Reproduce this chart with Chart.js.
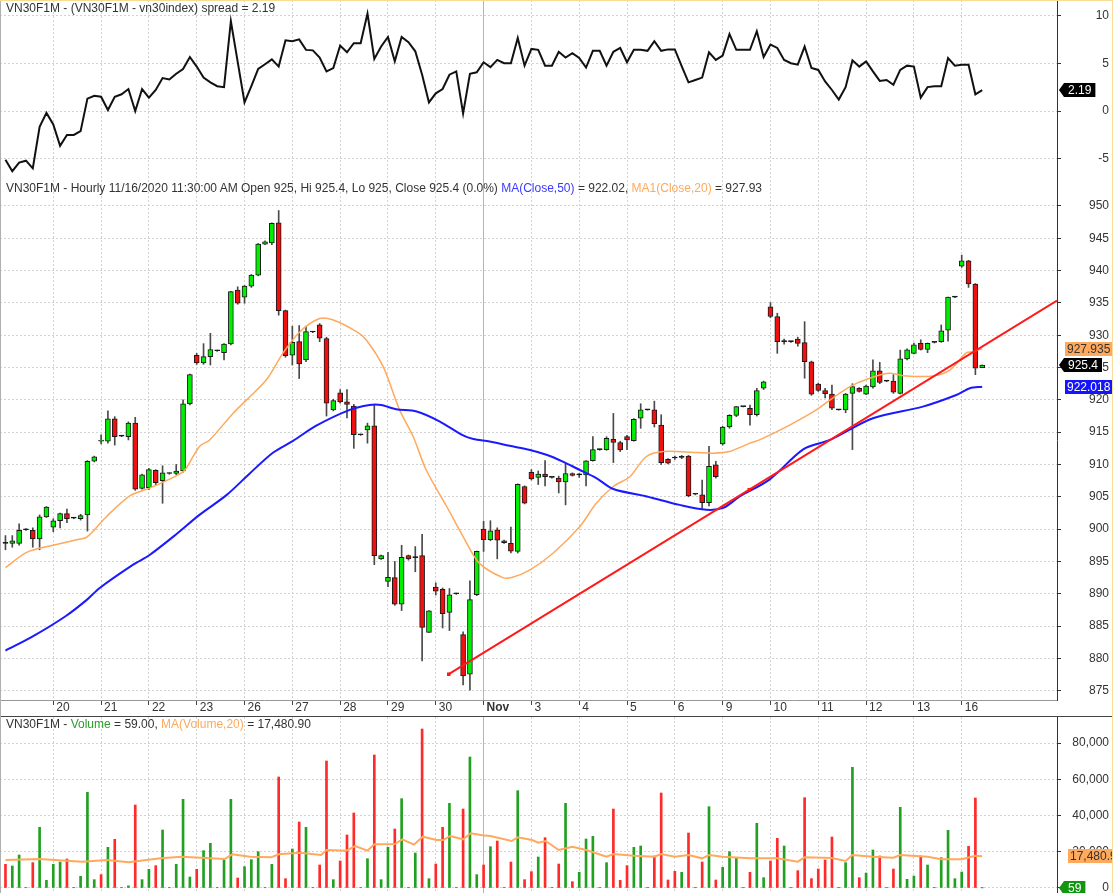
<!DOCTYPE html>
<html>
<head>
<meta charset="utf-8">
<script src="https://cdn.jsdelivr.net/npm/chart.js@4.4.1/dist/chart.umd.min.js"></script>
<style>
html,body{margin:0;padding:0;background:#fff;}
#wrap{position:relative;width:1113px;height:893px;overflow:hidden;background:#fff;font-family:"Liberation Sans",Arial,sans-serif;}
canvas{position:absolute;left:0;display:block;}
.ttl{position:absolute;left:6px;font-size:12px;line-height:14px;color:#333;white-space:nowrap;z-index:3;}
.ln{position:absolute;z-index:4;}
</style>
</head>
<body>
<div id="wrap">
<canvas id="cSpread" width="1113" height="180" style="top:0"></canvas>
<canvas id="cPrice" width="1113" height="537" style="top:180px"></canvas>
<canvas id="cVol" width="1113" height="176" style="top:717px"></canvas>
<div class="ttl" style="top:1px">VN30F1M - (VN30F1M - vn30index) spread = 2.19</div>
<div class="ttl" style="top:181px">VN30F1M - Hourly 11/16/2020 11:30:00 AM Open 925, Hi 925.4, Lo 925, Close 925.4 (0.0%) <span style="color:#3a3aff">MA(Close,50)</span> = 922.02, <span style="color:#ffa95c">MA1(Close,20)</span> = 927.93</div>
<div class="ttl" style="top:717px">VN30F1M - <span style="color:#2a9d2a">Volume</span> = 59.00, <span style="color:#ffa95c">MA(Volume,20)</span> = 17,480.90</div>
<div class="ln" style="left:0;top:716px;width:1113px;height:1px;background:#444"></div>
<div class="ln" style="left:0;top:0;width:1px;height:893px;background:#b0b0b0"></div>
<div class="ln" style="left:0;top:0;width:1113px;height:1px;background:#f6dc96"></div>
<div class="ln" style="left:1112px;top:0;width:1px;height:893px;background:#f6dc96"></div>
</div>
<script>
// ---------------- DATA ----------------
const days = ['20','21','22','23','26','27','28','29','30','Nov','3','4','5','6','9','10','11','12','13','16'];
const dayStart = [7,14,21,28,35,42,49,56,63,70,77,84,91,98,105,112,119,126,133,140];

const spreadTicks = [-5,0,5,10];
const priceTicks = [875,880,885,890,895,900,905,910,915,920,925,930,935,940,945,950];
const volTicks = [0,20000,40000,60000,80000];

const spread = [-5.1,-6.3,-5.4,-5.2,-6.0,-1.65,-0.2,-1.4,-3.65,-2.5,
-2.5,-2.1,1.3,1.6,1.5,0.1,1.5,1.75,2.3,0.0,
2.3,1.4,2.2,3.45,3.3,3.9,4.4,5.65,4.65,3.5,
3.0,2.6,2.5,9.4,5.15,0.9,2.6,4.4,4.9,5.4,
4.65,7.4,7.3,7.5,6.4,6.35,5.6,4.15,4.5,6.85,
6.15,7.1,7.1,10.2,5.45,6.75,7.75,5.2,7.75,7.2,
6.25,3.8,0.9,1.85,2.3,3.8,4.15,-0.25,3.9,4.05,
5.1,4.6,5.35,5.0,5.0,7.65,4.75,6.5,6.4,4.75,
4.75,6.2,5.6,6.05,5.55,4.55,6.3,6.3,4.75,6.2,
6.6,5.1,6.4,6.4,6.3,7.3,6.3,6.45,6.45,4.7,
3.0,3.25,3.5,6.15,5.35,5.8,8.05,6.4,6.4,6.4,
8.35,5.65,6.95,6.6,5.35,5.0,4.85,6.75,4.5,4.3,
3.1,2.2,1.2,2.5,5.3,4.65,5.2,4.15,3.15,3.25,
2.75,4.3,4.75,4.65,1.4,2.5,2.6,2.6,5.55,4.75,
4.85,4.85,1.75,2.19];

const opens = [897.8,897.8,897.8,899.9,899.8,898.5,901.9,900.3,901.3,902.4,
901.7,901.6,902.2,910.5,913.6,913.6,917.05,914.4,914.3,916.4,
906.3,906.4,909.1,907.5,908.6,908.6,909.0,919.4,926.9,925.7,
926.7,927.6,927.3,928.65,937.0,935.9,937.6,939.3,944.1,944.3,
947.4,933.8,926.9,929.0,926.2,930.5,931.6,929.5,918.45,921.1,
919.7,919.05,914.6,915.35,916.0,895.4,891.9,892.5,888.4,895.9,
895.6,895.9,884.0,891.05,890.7,887.1,890.0,883.7,877.55,889.85,
900.0,898.35,899.9,898.2,897.8,896.55,906.6,908.8,908.0,908.5,
908.0,907.9,907.3,908.6,908.4,908.4,910.6,912.3,912.3,913.9,
913.4,914.3,913.7,917.15,918.45,918.45,916.1,910.8,911.0,911.1,
911.3,905.4,905.3,904.1,909.95,913.2,915.8,917.6,918.95,918.7,
917.7,921.8,934.4,932.9,929.0,929.0,929.4,928.85,925.9,922.45,
921.45,920.9,918.45,918.45,921.0,921.8,920.9,922.0,924.5,922.9,
922.9,921.0,926.35,927.2,928.75,927.8,928.9,929.0,930.8,935.9,
940.7,941.5,937.9,925.0];

const highs = [899.0,899.0,900.8,900.1,900.2,902.2,903.5,901.6,902.5,903.1,
901.8,902.3,910.6,911.3,914.6,918.3,917.4,914.5,916.6,917.3,
908.5,909.4,909.2,909.8,908.7,910.0,920.0,924.0,927.2,928.7,
930.3,927.7,928.7,936.8,937.5,937.7,939.4,944.2,944.6,947.4,
949.3,933.9,931.4,931.5,931.4,930.6,931.8,929.7,920.1,921.6,
921.6,919.3,914.7,916.4,919.2,896.0,896.4,895.0,897.5,896.0,
897.3,899.2,887.4,891.7,890.9,890.8,890.1,884.1,892.0,896.6,
901.2,901.3,900.2,898.3,900.3,907.0,906.7,909.2,909.0,910.6,
908.1,908.2,910.2,908.7,908.6,910.6,914.3,912.4,914.3,917.9,
913.6,914.5,917.1,919.4,918.5,919.8,917.7,910.9,911.3,911.4,
911.4,905.5,907.6,912.8,910.5,915.9,917.7,919.0,919.0,919.2,
921.8,922.9,935.05,933.4,929.4,929.1,929.7,932.1,926.0,922.6,
921.8,922.3,918.5,921.0,922.5,921.9,922.3,926.2,925.8,923.0,
923.9,927.7,927.9,928.8,929.3,928.8,929.0,931.6,935.9,936.0,
942.4,941.6,938.0,925.4];

const lows = [896.8,897.2,897.5,899.8,897.2,896.8,901.8,899.6,900.2,901.0,
901.6,901.4,899.7,910.4,913.2,913.3,913.0,914.3,913.8,906.0,
906.2,906.1,906.8,904.0,908.5,908.4,908.8,919.2,925.5,925.5,
925.4,927.5,926.2,928.5,934.8,934.95,937.4,939.2,944.0,944.0,
933.1,926.6,925.4,923.3,925.9,930.4,929.0,917.5,918.3,919.5,
917.2,912.5,914.5,913.3,894.5,895.3,891.1,888.2,887.4,895.2,
893.4,879.6,884.0,889.8,884.7,884.3,889.9,875.9,875.1,889.7,
896.55,898.2,895.4,897.8,896.3,896.3,903.9,907.6,906.9,906.7,
907.9,905.6,903.75,908.2,908.0,906.7,910.5,912.2,912.2,910.3,
912.0,912.3,913.6,915.6,918.4,915.8,910.0,910.1,910.8,910.9,
905.0,905.3,903.2,903.6,907.9,913.0,915.6,917.4,918.9,916.1,
917.5,921.6,932.7,927.2,928.6,928.9,928.3,923.35,920.7,921.3,
920.3,918.5,918.4,918.0,912.3,921.2,920.8,921.8,922.5,922.8,
921.0,920.9,926.2,927.1,927.7,927.3,928.8,928.9,929.1,935.8,
940.5,937.4,923.9,925.0];

const closes = [897.8,898.2,899.8,899.9,898.5,901.9,903.4,901.3,902.4,901.6,
901.7,902.1,910.5,911.2,913.7,917.05,914.3,914.4,916.4,906.2,
908.4,909.2,907.2,908.7,908.6,909.0,919.4,923.9,925.7,926.7,
927.8,927.6,928.65,936.75,934.95,937.6,939.3,944.1,944.45,947.3,
933.8,926.85,928.9,925.55,930.55,930.5,929.55,919.5,919.9,919.7,
919.3,914.6,914.6,916.0,895.9,895.9,892.55,888.4,895.65,895.4,
895.6,884.8,887.35,890.4,886.9,889.85,890.0,877.3,889.1,896.55,
898.35,899.75,898.3,897.9,896.6,906.95,904.0,907.75,908.5,908.1,
908.0,907.3,908.6,908.3,908.4,910.55,912.3,912.3,914.05,913.4,
912.25,913.8,917.0,918.45,918.45,916.3,910.3,910.2,911.0,911.1,
905.15,905.4,904.1,909.7,908.1,915.8,917.6,918.95,918.95,917.7,
921.45,922.8,932.9,929.0,929.0,929.0,928.75,925.9,920.9,921.45,
920.95,918.7,918.45,920.9,922.05,921.3,922.15,924.5,922.7,922.9,
921.2,926.35,927.75,928.5,927.8,928.75,928.9,930.7,935.9,935.9,
941.5,937.95,924.9,925.4];

const ma50Idx = [0,4.0,8.9,11.9,13.8,18.7,21.1,25.0,28.4,32.4,35.8,39.2,42.1,45.5,50.4,53.3,55.0,57.2,60.2,63.6,67.0,68.5,70.9,73.8,76.8,79.2,81.6,83.8,86.5,89.0,93.9,98.7,102.6,105.1,107.5,111.9,116.8,120.7,127.0,134.3,139.2,141.2,143];
const ma50Val = [881.2,883.4,886.6,889.05,890.9,894.5,896.0,899.2,902.2,905.3,908.65,911.85,913.65,916.0,918.45,919.2,919.2,918.55,918.2,916.65,914.5,913.95,913.55,912.9,912.25,911.5,910.45,909.3,907.9,906.2,905.05,903.75,903.0,903.3,905.05,907.7,912.35,913.8,917.15,918.95,920.75,921.8,922.02];

const ma20Idx = [0,3.1,6.5,10.4,11.9,14.8,18.2,21.1,25.0,26.3,28.4,29.9,33.3,35.3,38.2,40.6,43.1,46.0,48.0,51.4,52.8,55.3,57.7,59.7,61.6,64.6,67.0,69.4,72.8,74.1,76.8,80.2,84.1,86.5,89.0,91.4,93.8,96.3,101.2,103.6,106.0,109.0,110.4,114.8,118.7,122.2,124.6,128.0,129.5,131.9,135.8,138.3,140.7,141.7,143];
const ma20Val = [894.05,896.4,897.4,898.35,898.75,901.95,905.15,906.35,908.25,909.2,912.8,913.8,917.9,920.0,923.1,927.2,930.55,932.6,932.35,930.55,929.3,925.15,918.45,914.3,909.15,903.5,898.85,894.7,892.5,892.5,893.7,896.3,900.4,904.0,906.6,908.1,911.2,912.0,911.85,911.75,912.0,913.3,913.8,916.1,918.45,921.1,922.55,923.85,924.1,923.7,923.7,924.65,927.3,927.45,927.93];

const trendIdx = [64.9,108.9,153.95];
const trendVal = [877.55,906.1,935.35];

const volume = [13057,12137,18206,150,13976,33470,4230,13057,14344,16000,
150,6437,52779,4598,7356,22436,26849,150,1200,45791,
4598,10298,12321,31999,150,13057,48917,6069,10298,20597,
24643,150,15632,48917,5517,11770,15632,20045,150,13057,
61239,5149,21516,36412,33470,150,12689,70066,4598,14896,
29240,41378,150,16183,73376,4598,22436,32550,49285,150,
19310,87720,5149,13241,33470,46711,150,43584,72273,7356,
12689,22804,25930,150,14344,53699,4598,9011,17103,27769,
150,13241,46711,3494,8643,27033,28505,150,13976,43584,
4230,12321,22436,23171,150,17654,52412,4414,9195,8643,
30344,150,14344,44872,4414,11402,20045,16735,150,8643,
35677,5701,14896,27401,23171,150,9563,49837,5149,10482,
15448,28137,150,13976,66572,5701,8276,20965,17654,150,
10482,44504,4781,6620,17654,12689,150,16735,31815,5149,
8827,22988,49653,59];

const volUp = [0,1,1,1,0,1,1,1,1,0,
1,1,1,1,0,1,0,1,1,0,
1,1,0,1,1,1,1,1,0,1,
1,1,1,1,0,1,1,1,1,1,
0,0,1,0,1,1,0,0,1,0,
0,0,1,1,0,1,1,0,1,0,
1,0,1,0,0,1,1,0,1,1,
0,1,0,0,0,1,0,0,1,0,
1,0,1,0,1,1,1,1,1,0,
0,0,1,1,1,0,0,0,0,1,
0,1,0,1,0,1,1,1,1,0,
1,1,0,0,1,1,0,0,0,0,
0,0,1,1,1,0,1,1,0,1,
0,1,1,1,0,1,1,1,1,1,
1,0,0,1];

const volMaIdx = [0,5,11.2,14.9,18,22.7,25.8,32.1,33.2,35.8,38.9,40,43.1,46.2,47,49.9,51.2,53,54,57,58.1,59.8,61.1,63.1,64.1,65.1,67,68.1,69.8,71,74.1,75,77.1,78,79.1,81,83,85,88,89,92,95,96,98,100,102,103,105,109,113,116,117,121,123,124,127,130,131,135,137,140,142,143];
const volMaVal = [15448,16000,14528,15448,14160,16367,17287,16000,18574,17287,16919,18574,19493,18206,20965,20597,23171,20597,24091,24275,26849,23907,28321,26482,26482,28688,26849,30160,29056,28688,25930,27953,26482,25010,25930,20965,22804,20965,17287,18758,17838,17287,18758,17287,18206,16367,18206,17287,16367,16367,14528,16919,16551,14896,18206,17287,16735,18206,17287,15815,15815,17838,17481];

// ---------------- CHART SETUP ----------------
const FONT = '"Liberation Sans", Arial, sans-serif';
Chart.defaults.font.family = FONT;
Chart.defaults.font.size = 12;
Chart.defaults.color = '#333';
Chart.defaults.animation = false;

const X_MIN = -0.8, X_MAX = 153.95;
const AXIS_W = 52, RIGHT_GAP = 4;
const GRID = '#d2d2d2';

function zeroPad(s) { s.paddingTop = 0; s.paddingBottom = 0; s.paddingLeft = 0; s.paddingRight = 0; }

function yAxis(min, max, ticks, fmt) {
  return {
    type: 'linear', position: 'right', min, max,
    afterBuildTicks: s => { s.ticks = ticks.map(v => ({value: v})); },
    afterFit: s => { s.width = AXIS_W; zeroPad(s); },
    ticks: { callback: v => fmt(v), crossAlign: 'far', padding: 4, autoSkip: false, color: '#333' },
    grid: { color: GRID, tickColor: '#333', tickLength: 4, tickBorderDash: [], drawTicks: true },
    border: { display: true, color: '#333', width: 1, dash: c => (c.tick ? [2, 2] : []) }
  };
}
function xAxis(withLabels, borderOn) {
  return {
    type: 'linear', min: X_MIN, max: X_MAX, offset: false,
    afterBuildTicks: s => { s.ticks = dayStart.map(v => ({value: v})); },
    afterFit: s => { s.height = withLabels ? 17 : 0; zeroPad(s); },
    ticks: {
      display: withLabels, autoSkip: false, maxRotation: 0, minRotation: 0,
      align: 'start', labelOffset: 3, padding: -5, color: '#333',
      callback: v => { const k = dayStart.indexOf(v); return k >= 0 ? days[k] : ''; },
      font: c => ({ size: 12, weight: (c.tick && c.tick.value === 70) ? 'bold' : 'normal' })
    },
    grid: {
      offset: false, drawTicks: withLabels, tickLength: 5, tickColor: '#444', tickBorderDash: [],
      color: c => (c.tick && c.tick.value === 70) ? '#b5b5b5' : GRID
    },
    border: { display: borderOn, color: withLabels ? '#999' : '#333', width: 1,
      dash: c => (c.tick && c.tick.value !== 70) ? [2, 2] : [] }
  };
}
function badges(list) {
  return { id: 'badges', afterDraw(chart) {
    const ctx = chart.ctx, ys = chart.scales.y, ax = chart.chartArea.right;
    ctx.save();
    ctx.font = '12px ' + FONT;
    ctx.textBaseline = 'middle';
    ctx.textAlign = 'left';
    list.forEach(b => {
      const y = Math.round(ys.getPixelForValue(b.value));
      const tw = ctx.measureText(b.text).width;
      const h = 14;
      const x0 = ax + (b.arrow ? 7 : (b.dx || 8));
      const w = tw + (b.arrow ? 8 : 4);
      ctx.fillStyle = b.bg;
      ctx.beginPath();
      if (b.arrow) {
        ctx.moveTo(ax + 2, y); ctx.lineTo(x0, y - h / 2); ctx.lineTo(x0 + w, y - h / 2);
        ctx.lineTo(x0 + w, y + h / 2); ctx.lineTo(x0, y + h / 2); ctx.closePath();
      } else {
        ctx.rect(x0, y - h / 2, w, h);
      }
      ctx.fill();
      ctx.fillStyle = b.fg;
      ctx.fillText(b.text, x0 + (b.arrow ? 4 : 2), y + 0.5);
    });
    ctx.restore();
  }};
}
const baseOpts = {
  responsive: false, devicePixelRatio: 1, animation: false, events: [],
  layout: { padding: { left: 0, top: 0, bottom: 0, right: RIGHT_GAP }, autoPadding: false },
  plugins: { legend: { display: false }, tooltip: { enabled: false }, title: { display: false } }
};
const pts = (xs, ys) => xs.map((x, k) => ({x, y: ys[k]}));

// --- Spread panel ---
new Chart(document.getElementById('cSpread'), {
  type: 'line',
  data: { datasets: [{
    data: spread.map((v, i) => ({x: i, y: v})),
    borderColor: '#111', borderWidth: 2, pointRadius: 0, tension: 0, fill: false
  }]},
  options: Object.assign({}, baseOpts, {
    scales: {
      x: xAxis(false, true),
      y: yAxis(-7.22, 11.62, spreadTicks, v => String(v))
    }
  }),
  plugins: [badges([{ value: 2.19, text: '2.19', bg: '#000', fg: '#fff', arrow: true }])]
});

// --- Price panel ---
new Chart(document.getElementById('cPrice'), {
  type: 'bar',
  data: { datasets: [
    { type: 'line', data: pts(trendIdx, trendVal), borderColor: '#ff1a1a', borderWidth: 2,
      pointStyle: 'rect', pointRadius: [2.5, 2.5, 0], pointBackgroundColor: '#ff1a1a', pointBorderWidth: 0,
      tension: 0, order: 1 },
    { type: 'line', data: pts(ma50Idx, ma50Val), borderColor: '#1a1aff', borderWidth: 2, pointRadius: 0, tension: 0.3, order: 2 },
    { type: 'line', data: pts(ma20Idx, ma20Val), borderColor: '#ffa95c', borderWidth: 1.5, pointRadius: 0, tension: 0.3, order: 3 },
    { type: 'bar', data: closes.map((c, i) => ({x: i, y: [opens[i], c]})),
      backgroundColor: closes.map((c, i) => c > opens[i] ? '#00ee00' : (c < opens[i] ? '#f01010' : '#000')),
      borderColor: '#1a1a1a', borderWidth: 1, borderSkipped: false, barThickness: 5, minBarLength: 1,
      grouped: false, order: 4 },
    { type: 'bar', data: closes.map((c, i) => ({x: i, y: [lows[i], highs[i]]})),
      backgroundColor: '#4a4a4a', borderWidth: 0, barThickness: 1, grouped: false, order: 5 }
  ]},
  options: Object.assign({}, baseOpts, {
    scales: {
      x: xAxis(true, true),
      y: yAxis(873.56, 954.02, priceTicks, v => String(v))
    }
  }),
  plugins: [badges([
    { value: 927.935, text: '927.935', bg: '#ffa95c', fg: '#333' },
    { value: 925.4, text: '925.4', bg: '#000', fg: '#fff', arrow: true },
    { value: 922.018, text: '922.018', bg: '#1414ff', fg: '#fff' }
  ])]
});

// --- Volume panel ---
new Chart(document.getElementById('cVol'), {
  type: 'bar',
  data: { datasets: [
    { type: 'line', data: pts(volMaIdx, volMaVal), borderColor: '#ffa95c', borderWidth: 2, pointRadius: 0, tension: 0, order: 1 },
    { type: 'bar', data: volume.map((v, i) => ({x: i, y: v})),
      backgroundColor: volUp.map(u => u ? '#22a022' : '#ff2a2a'), borderWidth: 0, barThickness: 2,
      grouped: false, order: 2 }
  ]},
  options: Object.assign({}, baseOpts, {
    scales: {
      x: xAxis(false, false),
      y: yAxis(-2759, 94345, volTicks, v => v.toLocaleString('en-US'))
    }
  }),
  plugins: [badges([
    { value: 17480.9, text: '17,480.9', bg: '#ffa95c', fg: '#333', dx: 11 },
    { value: 59, text: '59', bg: '#109610', fg: '#fff', arrow: true }
  ])]
});
</script>
</body>
</html>
